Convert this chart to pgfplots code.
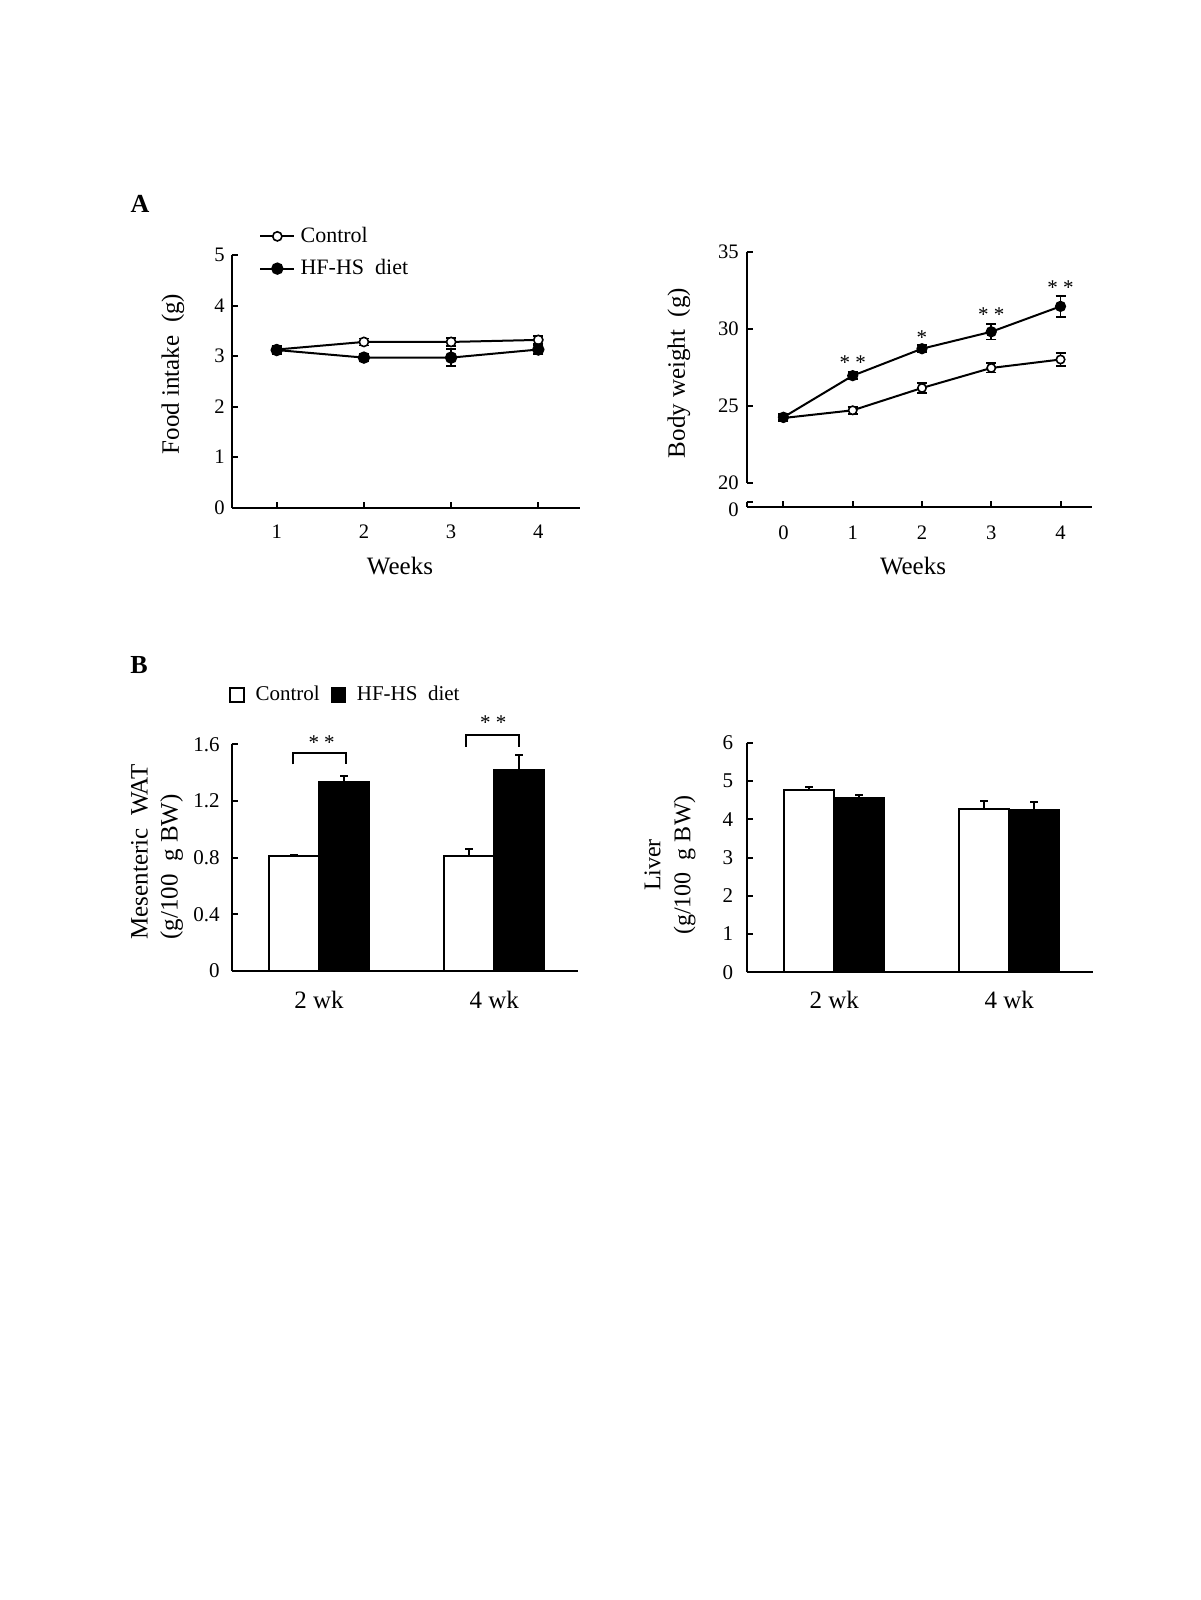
\documentclass[border=0pt]{standalone}
\usepackage{fontspec}
\setmainfont{Liberation Serif}
\usepackage{pgfplots}
\pgfplotsset{compat=1.18}
\pgfplotsset{
  myaxis/.style={
    scale only axis, anchor=south west, clip=false,
    axis x line*=bottom, axis y line*=left,
    axis line style={line width=1pt,-},
    every tick/.style={black, line width=1pt},
    tick align=inside, major tick length=3pt,
    tick label style={font=\fontsize{10.3}{12}\selectfont},
    /pgf/number format/assume math mode=true,
  },
  ctrl/.style={black, line width=1pt, mark=*, mark options={fill=white, line width=0.8pt},
    error bars/.cd, y dir=both, y explicit, error bar style={line width=0.9pt},
    error mark options={rotate=90, mark size=2.5pt, line width=0.9pt}, /pgfplots/.cd},
  hfhs/.style={black, line width=1pt, mark=*, mark options={fill=black, line width=0.8pt},
    error bars/.cd, y dir=both, y explicit, error bar style={line width=0.9pt},
    error mark options={rotate=90, mark size=2.5pt, line width=0.9pt}, /pgfplots/.cd},
}
\begin{document}
\begin{tikzpicture}[x=0.5pt,y=-0.5pt]
\path (0,0) rectangle (1200,1600);
\coordinate (A1) at (231.7,507.7);
\coordinate (A2) at (746.7,506.7);
\coordinate (B1) at (231.7,971);
\coordinate (B2) at (746.7,972.3);

% Panel letters
\node[font=\fontsize{13}{15}\selectfont\bfseries] at (140,204) {A};
\node[font=\fontsize{13}{15}\selectfont\bfseries] at (139,665) {B};

% ---------------- A left: food intake
\begin{axis}[myaxis, at={(A1)}, width=174.15pt, height=126.35pt,
  xmin=0.484, xmax=4.478, ymin=0, ymax=5,
  xtick={1,2,3,4}, ytick={0,1,2,3,4,5},
  xticklabel style={yshift=-5.2pt},
  legend style={at={(axis description cs:0.078,1.01)}, anchor=west, draw=none, fill=none,
    inner sep=0pt, row sep=3pt, font=\fontsize{11}{12}\selectfont,
    cells={anchor=west}, nodes={inner xsep=2.6pt}},
  legend cell align=left]
\addplot[mark size=2.3pt, ctrl] coordinates {(1,3.13) +- (0,0.06) (2,3.28) +- (0,0.07) (3,3.28) +- (0,0.08) (4,3.32) +- (0,0.07)};
\addlegendentry{Control}
\addplot[mark size=2.7pt, hfhs] coordinates {(1,3.12) +- (0,0.08) (2,2.97) +- (0,0.07) (3,2.97) +- (0,0.17) (4,3.13) +- (0,0.09)};
\addlegendentry{HF-HS\enspace diet}
\end{axis}
\node[rotate=90, font=\fontsize{12.5}{15}\selectfont] at (173,374) {Food intake\enspace(g)};
\node[font=\fontsize{12.5}{15}\selectfont] at (400,566) {Weeks};

% ---------------- A right: body weight
\begin{axis}[myaxis, at={(A2)}, width=172.5pt, height=127.5pt,
  xmin=-0.53, xmax=4.45, ymin=18.44, ymax=35,
  xtick={0,1,2,3,4}, ytick={20,25,30,35},
  extra y ticks={18.77}, extra y tick labels={0},
  extra y tick style={yticklabel style={yshift=-4pt}},
  y axis line style={draw=none},
  yticklabel style={xshift=-0.5pt},
  xticklabel style={yshift=-6.2pt}]
\addplot[mark size=2.1pt, ctrl] coordinates {(0,24.2) +- (0,0.2) (1,24.7) +- (0,0.22) (2,26.15) +- (0,0.3) (3,27.45) +- (0,0.3) (4,28.0) +- (0,0.4)};
\addplot[mark size=2.4pt, hfhs] coordinates {(0,24.25) +- (0,0.2) (1,26.95) +- (0,0.23) (2,28.7) +- (0,0.22) (3,29.8) +- (0,0.5) (4,31.45) +- (0,0.68)};
\draw[line width=1pt] (axis cs:-0.53,18.44) -- (axis cs:-0.53,18.77);
\draw[line width=1pt] (axis cs:-0.53,20) -- (axis cs:-0.53,35);
\node[font=\fontsize{10.5}{12}\selectfont, yshift=-1.5pt] at (axis cs:1,27.98) {* *};
\node[font=\fontsize{10.5}{12}\selectfont, yshift=-1.5pt] at (axis cs:2,29.6) {*};
\node[font=\fontsize{10.5}{12}\selectfont, yshift=-1.5pt] at (axis cs:3,31.1) {* *};
\node[font=\fontsize{10.5}{12}\selectfont, yshift=-1.5pt] at (axis cs:4,32.84) {* *};
\end{axis}
\node[rotate=90, font=\fontsize{12.5}{15}\selectfont] at (679,373) {Body weight\enspace(g)};
\node[font=\fontsize{12.5}{15}\selectfont] at (913,566) {Weeks};

% ---------------- B left: mesenteric WAT
\begin{axis}[myaxis, at={(B1)}, width=173.3pt, height=113.35pt,
  xmin=-0.498, xmax=1.479, ymin=0, ymax=1.6,
  ybar=0pt, bar width=25pt,
  xtick={0,1}, xticklabels={2 wk, 4 wk}, xtick style={draw=none},
  xticklabel style={font=\fontsize{12.5}{15}\selectfont, yshift=-3.7pt},
  ytick={0,0.4,0.8,1.2,1.6}, yticklabels={0,0.4,0.8,1.2,1.6},
  yticklabel style={xshift=-2.5pt, font=\fontsize{10.5}{12}\selectfont},
  legend columns=2,
  legend style={at={(axis description cs:-0.008,1.2175)}, anchor=west, draw=none, fill=none,
    inner sep=0pt, font=\fontsize{10.5}{12}\selectfont, column sep=4pt,
    nodes={inner xsep=1.5pt}},
  legend image code/.code={\draw[#1, line width=0.8pt] (0pt,-3.4pt) rectangle (6.8pt,3.4pt);}]
\addplot[fill=white, draw=black, line width=0.9pt,
  error bars/.cd, y dir=plus, y explicit, error bar style={line width=0.9pt},
  error mark options={rotate=90, mark size=2pt, line width=0.9pt}]
  coordinates {(0,0.812) +- (0,0.01) (1,0.81) +- (0,0.05)};
\addlegendentry{Control}
\addplot[fill=black, draw=black, line width=0.9pt,
  error bars/.cd, y dir=plus, y explicit, error bar style={line width=0.9pt},
  error mark options={rotate=90, mark size=2pt, line width=0.9pt}]
  coordinates {(0,1.336) +- (0,0.043) (1,1.419) +- (0,0.106)};
\addlegendentry{HF-HS\enspace diet}
\draw[line width=0.9pt] (axis cs:-0.147,1.459) -- (axis cs:-0.147,1.536) -- (axis cs:0.155,1.536) -- (axis cs:0.155,1.459);
\draw[line width=0.9pt] (axis cs:0.839,1.584) -- (axis cs:0.839,1.666) -- (axis cs:1.143,1.666) -- (axis cs:1.143,1.584);
\node[font=\fontsize{10.5}{12}\selectfont, yshift=-1.5pt] at (axis cs:0.015,1.635) {* *};
\node[font=\fontsize{10.5}{12}\selectfont, yshift=-1.5pt] at (axis cs:0.994,1.771) {* *};
\end{axis}
\node[rotate=90, font=\fontsize{12.5}{15}\selectfont, align=left, anchor=center] at (157,852) {Mesenteric\enspace WAT\\(g/100\enspace g BW)};

% ---------------- B right: liver
\begin{axis}[myaxis, at={(B2)}, width=173.3pt, height=114.8pt,
  xmin=-0.5, xmax=1.48, ymin=0, ymax=6,
  ybar=0pt, bar width=25pt,
  xtick={0,1}, xticklabels={2 wk, 4 wk}, xtick style={draw=none},
  xticklabel style={font=\fontsize{12.5}{15}\selectfont, yshift=-2.8pt},
  ytick={0,1,2,3,4,5,6}, yticklabels={0,1,2,3,4,5,6},
  yticklabel style={xshift=-3.2pt, font=\fontsize{10.5}{12}\selectfont}]
\addplot[fill=white, draw=black, line width=0.9pt,
  error bars/.cd, y dir=plus, y explicit, error bar style={line width=0.9pt},
  error mark options={rotate=90, mark size=2pt, line width=0.9pt}]
  coordinates {(0,4.755) +- (0,0.09) (1,4.276) +- (0,0.21)};
\addplot[fill=black, draw=black, line width=0.9pt,
  error bars/.cd, y dir=plus, y explicit, error bar style={line width=0.9pt},
  error mark options={rotate=90, mark size=2pt, line width=0.9pt}]
  coordinates {(0,4.546) +- (0,0.08) (1,4.25) +- (0,0.21)};
\end{axis}
\node[rotate=90, font=\fontsize{12}{15}\selectfont, align=center, anchor=center] at (670,865) {Liver\\(g/100\enspace g BW)};
\end{tikzpicture}
\end{document}
